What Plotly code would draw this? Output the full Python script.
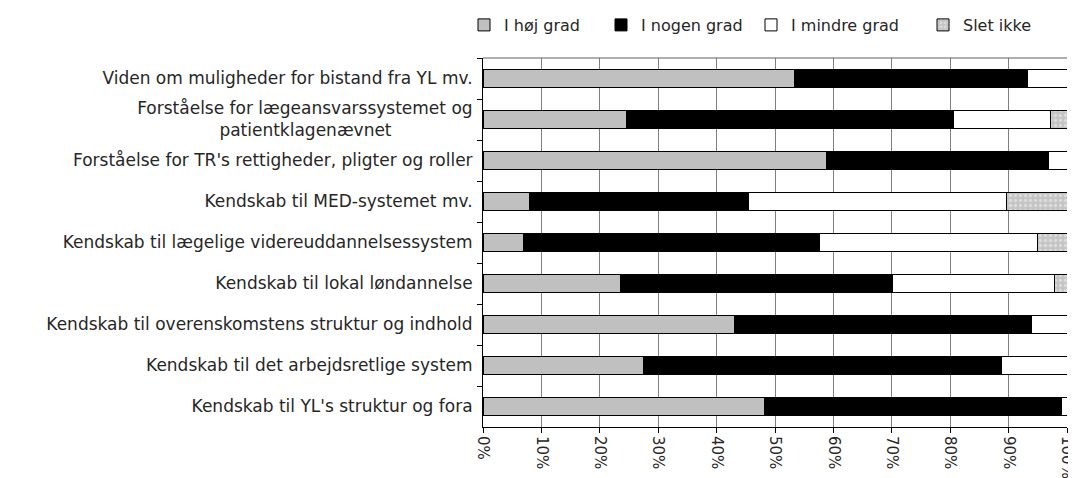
import plotly.graph_objects as go

categories = [
    "Viden om muligheder for bistand fra YL mv.",
    "Forståelse for lægeansvarssystemet og<br>patientklagenævnet" + "\u00a0" * 15,
    "Forståelse for TR's rettigheder, pligter og roller",
    "Kendskab til MED-systemet mv.",
    "Kendskab til lægelige videreuddannelsessystem",
    "Kendskab til lokal løndannelse",
    "Kendskab til overenskomstens struktur og indhold",
    "Kendskab til det arbejdsretlige system",
    "Kendskab til YL's struktur og fora",
]
hoej_grad = [53.4, 24.6, 58.8, 8.0, 6.9, 23.5, 43.1, 27.5, 48.2]
nogen_grad = [39.8, 56.0, 38.1, 37.5, 50.8, 46.7, 50.8, 61.2, 50.9]
mindre_grad = [6.8, 16.5, 3.1, 44.1, 37.2, 27.6, 6.1, 11.3, 0.9]
slet_ikke = [0.0, 2.9, 0.0, 10.4, 5.1, 2.2, 0.0, 0.0, 0.0]
series_names = ["I høj grad", "I nogen grad", "I mindre grad", "Slet ikke"]
x_ticks = list(range(0, 101, 10))
x_tick_text = [f"{v}%" for v in x_ticks]

W, H = 1068, 470  # page has an 8px body margin
FONT = "DejaVu Sans"
TXT = "#262626"

fig = go.Figure()
line = dict(color="#000000", width=1)
fig.add_trace(go.Bar(y=categories, x=hoej_grad, name=series_names[0], orientation="h",
                     legend="legend", marker=dict(color="#c0c0c0", line=line)))
fig.add_trace(go.Bar(y=categories, x=nogen_grad, name=series_names[1], orientation="h",
                     legend="legend2", marker=dict(color="#000000", line=line)))
fig.add_trace(go.Bar(y=categories, x=mindre_grad, name=series_names[2], orientation="h",
                     legend="legend3", marker=dict(color="#ffffff", line=line)))
fig.add_trace(go.Bar(y=categories, x=slet_ikke, name=series_names[3], orientation="h",
                     legend="legend4",
                     marker=dict(color="#c8c8c8", line=line,
                                 pattern=dict(shape=".", fgcolor="#f2f2f2", bgcolor="#c4c4c4",
                                              size=5, solidity=0.35))))

legend_text_x = [506, 643, 793, 965]  # page x where each legend text starts
legend_font = dict(family=FONT, size=16, color=TXT)


def leg(px):
    return dict(orientation="h", xref="container", yref="container",
                x=(px - 8 - 42) / W, y=(H - 17) / H, xanchor="left", yanchor="middle",
                font=legend_font, bgcolor="rgba(0,0,0,0)", borderwidth=0)


fig.update_layout(
    barmode="stack",
    bargap=0.58,
    width=W, height=H,
    margin=dict(l=475, r=9, t=50, b=51, autoexpand=False),
    paper_bgcolor="white", plot_bgcolor="white",
    font=dict(family=FONT, size=17, color=TXT),
    showlegend=True,
    legend=leg(legend_text_x[0]),
    legend2=leg(legend_text_x[1]),
    legend3=leg(legend_text_x[2]),
    legend4=leg(legend_text_x[3]),
    xaxis=dict(range=[0, 100], tickvals=x_ticks, ticktext=x_tick_text, tickangle=90,
               showgrid=True, gridcolor="#808080", gridwidth=1,
               showline=True, linecolor="#000000", linewidth=1,
               ticks="outside", ticklen=5, tickcolor="#000000",
               tickfont=dict(family=FONT, size=15, color=TXT),
               ticklabeloverflow="allow",
               zeroline=False, fixedrange=True),
    yaxis=dict(autorange="reversed", showline=True, linecolor="#000000", linewidth=1,
               ticks="outside", ticklen=5, tickcolor="#000000", tickson="boundaries",
               showgrid=False, ticklabelstandoff=6, fixedrange=True),
)
fig.add_shape(type="line", xref="paper", yref="paper", x0=0, x1=1, y0=1, y1=1,
              line=dict(color="#606060", width=1))
fig.write_html("out.html")
